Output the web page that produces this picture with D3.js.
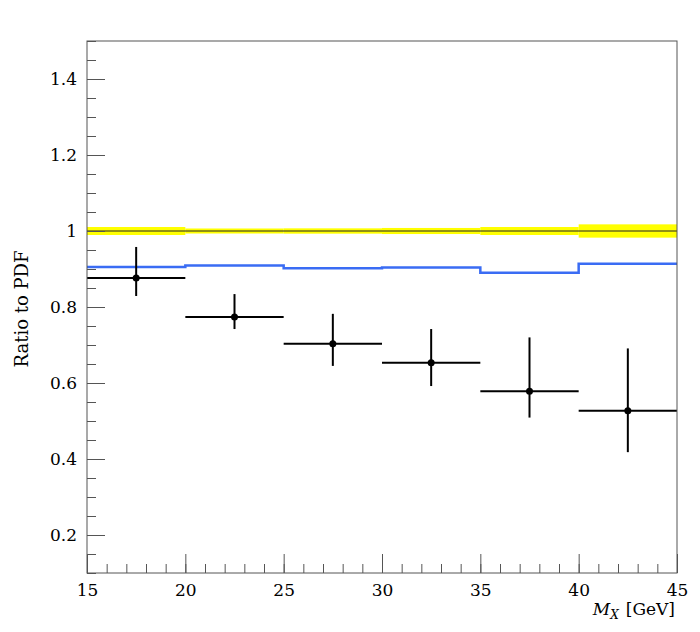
<!DOCTYPE html>
<html>
<head>
<meta charset="utf-8">
<script src="https://cdn.jsdelivr.net/npm/d3@7"></script>
<style>
  body { margin: 0; background: #fff; }
  svg text { font-family: "DejaVu Serif", serif; }
</style>
</head>
<body>
<script>
// bin edges in M_X [GeV]
var binEdges = [15, 20, 25, 30, 35, 40, 45];
// data / PDF ratio, with asymmetric errors
var dataRatio = [0.876, 0.774, 0.703, 0.653, 0.578, 0.527];
var dataErrUp = [0.082, 0.060, 0.079, 0.089, 0.142, 0.164];
var dataErrDown = [0.047, 0.032, 0.058, 0.061, 0.069, 0.109];
// model prediction ratio (blue histogram)
var modelRatio = [0.905, 0.909, 0.902, 0.904, 0.890, 0.914];
// PDF uncertainty band half-width (yellow)
var pdfUnc = [0.0105, 0.0066, 0.007, 0.008, 0.0105, 0.0175];

var yTicks = [0.2, 0.4, 0.6, 0.8, 1, 1.2, 1.4];
var xTicks = [15, 20, 25, 30, 35, 40, 45];

var width = 700, height = 632;
var margin = {left: 87, right: 23, top: 41, bottom: 59};

var svg = d3.select("body").append("svg")
    .attr("width", width)
    .attr("height", height);

var x = d3.scaleLinear().domain([15, 45]).range([margin.left, width - margin.right]);
var y = d3.scaleLinear().domain([0.1, 1.5]).range([height - margin.bottom, margin.top]);

var bins = dataRatio.map(function(d, i) {
    return {lo: binEdges[i], hi: binEdges[i + 1], v: d, up: dataErrUp[i], dn: dataErrDown[i],
            m: modelRatio[i], u: pdfUnc[i]};
});

// yellow band
svg.selectAll(".band")
    .data(bins).enter()
    .append("rect")
    .attr("x", function(d) { return x(d.lo); })
    .attr("width", function(d) { return x(d.hi) - x(d.lo); })
    .attr("y", function(d) { return y(1 + d.u); })
    .attr("height", function(d) { return y(1 - d.u) - y(1 + d.u); })
    .attr("fill", "#ffff00");

// line at 1
svg.append("line")
    .attr("x1", x(15)).attr("x2", x(45))
    .attr("y1", y(1)).attr("y2", y(1))
    .attr("stroke", "#222").attr("stroke-width", 1);

// blue histogram
var step = [];
bins.forEach(function(d) { step.push([d.lo, d.m]); step.push([d.hi, d.m]); });
svg.append("path")
    .datum(step)
    .attr("d", d3.line().x(function(d) { return x(d[0]); }).y(function(d) { return y(d[1]); }))
    .attr("fill", "none")
    .attr("stroke", "#3a6cf4")
    .attr("stroke-width", 2.5);

// data points
var pts = svg.selectAll(".pt").data(bins).enter().append("g");
pts.append("line")
    .attr("x1", function(d) { return x(d.lo); })
    .attr("x2", function(d) { return x(d.hi); })
    .attr("y1", function(d) { return y(d.v); })
    .attr("y2", function(d) { return y(d.v); })
    .attr("stroke", "#000").attr("stroke-width", 2);
pts.append("line")
    .attr("x1", function(d) { return x((d.lo + d.hi) / 2); })
    .attr("x2", function(d) { return x((d.lo + d.hi) / 2); })
    .attr("y1", function(d) { return y(d.v + d.up); })
    .attr("y2", function(d) { return y(d.v - d.dn); })
    .attr("stroke", "#000").attr("stroke-width", 2);
pts.append("circle")
    .attr("cx", function(d) { return x((d.lo + d.hi) / 2); })
    .attr("cy", function(d) { return y(d.v); })
    .attr("r", 3.5)
    .attr("fill", "#000");

// frame
svg.append("rect")
    .attr("x", x(15)).attr("y", y(1.5))
    .attr("width", x(45) - x(15)).attr("height", y(0.1) - y(1.5))
    .attr("fill", "none").attr("stroke", "#555").attr("stroke-width", 1);

// axes (ticks pointing inwards)
var yMinor = d3.range(0.1, 1.5001, 0.05).map(function(v) { return +v.toFixed(2); });
svg.append("g")
    .attr("transform", "translate(" + x(15) + ",0)")
    .call(d3.axisLeft(y).tickValues(yMinor).tickSize(-9).tickFormat(""))
    .call(function(g) { g.select(".domain").remove(); g.selectAll("line").attr("stroke", "#555"); });
svg.append("g")
    .attr("transform", "translate(" + x(15) + ",0)")
    .call(d3.axisLeft(y).tickValues(yTicks).tickSize(-18).tickPadding(10)
        .tickFormat(function(d) { return d3.format("")(d); }))
    .call(function(g) {
        g.select(".domain").remove();
        g.attr("font-family", null).attr("font-size", 17);
        g.selectAll("line").attr("stroke", "#555");
        g.selectAll("text").attr("fill", "#000");
    });

var xMinor = d3.range(15, 46, 1);
svg.append("g")
    .attr("transform", "translate(0," + y(0.1) + ")")
    .call(d3.axisBottom(x).tickValues(xMinor).tickSize(-9).tickFormat(""))
    .call(function(g) { g.select(".domain").remove(); g.selectAll("line").attr("stroke", "#555"); });
svg.append("g")
    .attr("transform", "translate(0," + y(0.1) + ")")
    .call(d3.axisBottom(x).tickValues(xTicks).tickSize(-19).tickPadding(11))
    .call(function(g) {
        g.select(".domain").remove();
        g.attr("font-family", null).attr("font-size", 17);
        g.selectAll("line").attr("stroke", "#555");
        g.selectAll("text").attr("fill", "#000");
    });

// axis titles
var xt = svg.append("text")
    .attr("x", x(45) - 2)
    .attr("y", 615)
    .attr("text-anchor", "end")
    .attr("font-size", 17);
xt.append("tspan").attr("font-style", "italic").text("M");
xt.append("tspan").attr("font-style", "italic").attr("font-size", 12).attr("dy", 4).text("X");
xt.append("tspan").attr("dy", -4).attr("dx", 7).text("[GeV]");

svg.append("text")
    .attr("transform", "translate(28,309) rotate(-90)")
    .attr("text-anchor", "middle")
    .attr("font-size", 18)
    .attr("textLength", 117)
    .attr("lengthAdjust", "spacing")
    .text("Ratio to PDF");
</script>
</body>
</html>
